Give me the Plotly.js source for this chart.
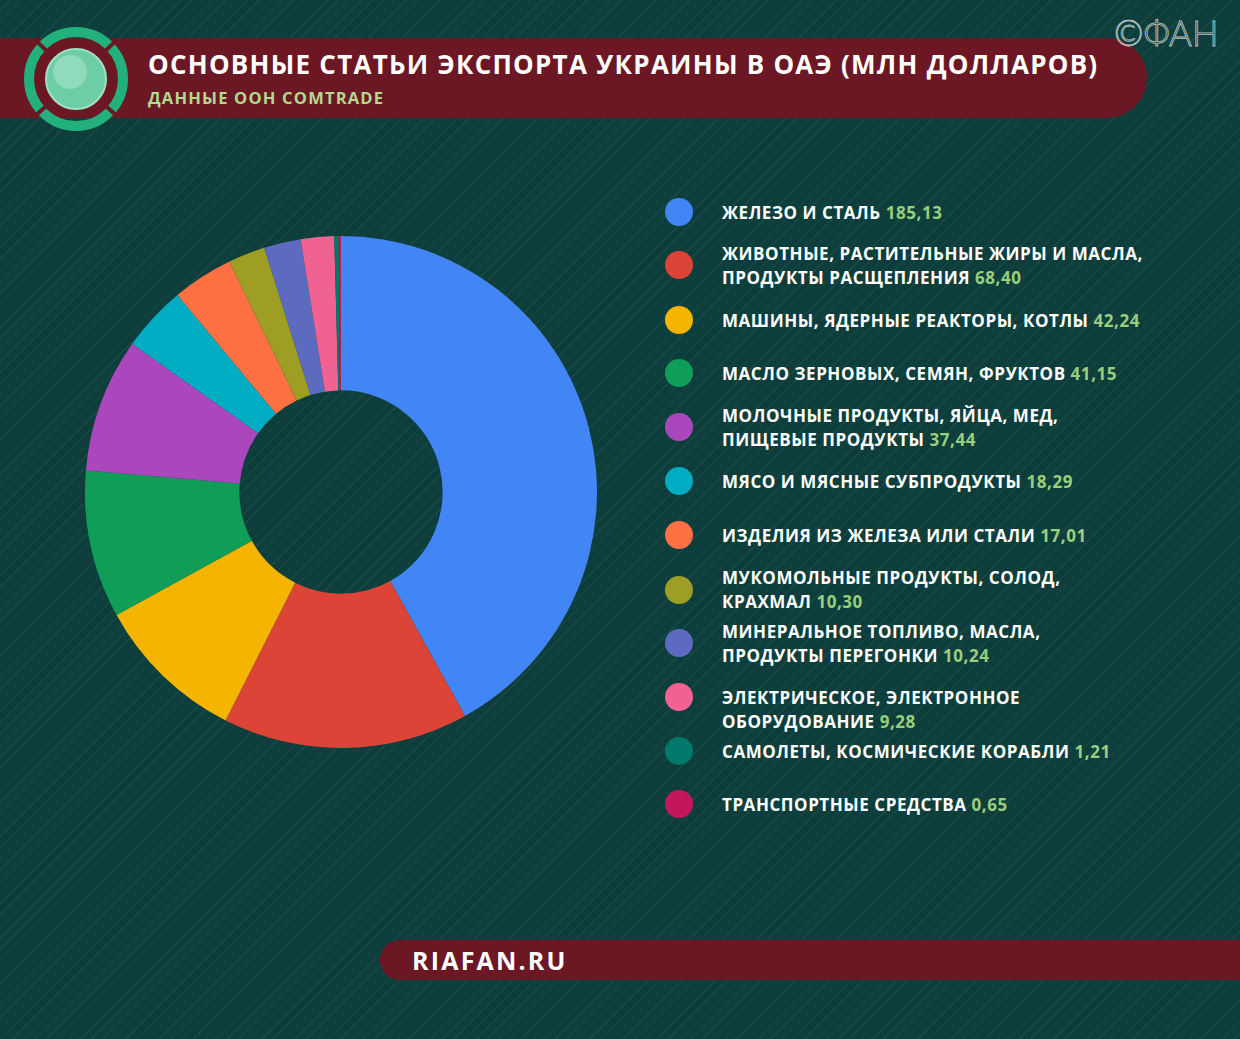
<!DOCTYPE html>
<html>
<head>
<meta charset="utf-8">
<script src="https://cdn.plot.ly/plotly-3.0.1.min.js"></script>
<style>
  html, body { margin: 0; padding: 0; }
  body {
    width: 1240px; height: 1039px; overflow: hidden;
    background-color: #0d3e3b;
    background-image: repeating-linear-gradient(135deg, rgba(255,255,255,0) 0px, rgba(255,255,255,0) 7px, rgba(120,170,160,0.10) 7px, rgba(120,170,160,0.10) 8px);
  }
  #chart { width: 1240px; height: 1039px; }
</style>
</head>
<body>
<div id="chart"></div>
<script>
// ---- data ----
const categories = [
  "ЖЕЛЕЗО И СТАЛЬ",
  "ЖИВОТНЫЕ, РАСТИТЕЛЬНЫЕ ЖИРЫ И МАСЛА,\nПРОДУКТЫ РАСЩЕПЛЕНИЯ",
  "МАШИНЫ, ЯДЕРНЫЕ РЕАКТОРЫ, КОТЛЫ",
  "МАСЛО ЗЕРНОВЫХ, СЕМЯН, ФРУКТОВ",
  "МОЛОЧНЫЕ ПРОДУКТЫ, ЯЙЦА, МЕД,\nПИЩЕВЫЕ ПРОДУКТЫ",
  "МЯСО И МЯСНЫЕ СУБПРОДУКТЫ",
  "ИЗДЕЛИЯ ИЗ ЖЕЛЕЗА ИЛИ СТАЛИ",
  "МУКОМОЛЬНЫЕ ПРОДУКТЫ, СОЛОД,\nКРАХМАЛ",
  "МИНЕРАЛЬНОЕ ТОПЛИВО, МАСЛА,\nПРОДУКТЫ ПЕРЕГОНКИ",
  "ЭЛЕКТРИЧЕСКОЕ, ЭЛЕКТРОННОЕ\nОБОРУДОВАНИЕ",
  "САМОЛЕТЫ, КОСМИЧЕСКИЕ КОРАБЛИ",
  "ТРАНСПОРТНЫЕ СРЕДСТВА"
];
const values = [185.13, 68.40, 42.24, 41.15, 37.44, 18.29, 17.01, 10.30, 10.24, 9.28, 1.21, 0.65];
const valueLabels = ["185,13", "68,40", "42,24", "41,15", "37,44", "18,29", "17,01", "10,30", "10,24", "9,28", "1,21", "0,65"];
const colors = ["#4285f4", "#db4437", "#f4b400", "#0f9d58", "#ab47bc", "#00acc1", "#ff7043", "#9e9d24", "#5c6bc0", "#f06292", "#00796b", "#c2185b"];
const titleText = "ОСНОВНЫЕ СТАТЬИ ЭКСПОРТА УКРАИНЫ В ОАЭ (МЛН ДОЛЛАРОВ)";
const subtitleText = "ДАННЫЕ ООН COMTRADE";
const footerText = "RIAFAN.RU";
const watermarkText = "©ФАН";

// ---- layout constants (pixels) ----
const W = 1240, H = 1039;
const legendMarkerX = 679;
const legendTextX = 720;
const legendFirstLineY = [212, 253, 320, 373, 415, 481, 535, 577, 631, 697, 751, 804];
const legendMarkerY = [212, 265, 320, 373, 427, 481, 535, 590, 643, 697, 751, 804];
const lineGap = 24;
const valueColor = "#98cf7d";
const bandColor = "#6c1824";
const FONT = "Open Sans, Noto Sans, sans-serif";

const pieCx = 341, pieCy = 492, pieR = 256;

const annotations = [];
const spacing = [];
function addText(x, y, text, xanchor, font, ls) {
  annotations.push({ xref: "x", yref: "y", x: x, y: y, text: text, showarrow: false,
    xanchor: xanchor, yanchor: "middle", align: "left", font: font });
  spacing.push(ls);
}
categories.forEach((c, i) => {
  const lines = c.split("\n");
  lines.forEach((ln, j) => {
    let t = ln;
    if (j === lines.length - 1) t += ' <span style="color:' + valueColor + '">' + valueLabels[i] + '</span>';
    addText(legendTextX, legendFirstLineY[i] + j * lineGap, t, "left",
      { family: FONT, size: 17, color: "#ffffff", weight: 700 }, "0.55px");
  });
});
addText(146, 64, titleText, "left", { family: FONT, size: 26, color: "#ffffff", weight: 700 }, "1.25px");
addText(146, 97, subtitleText, "left", { family: FONT, size: 16.5, color: "#b3d98f", weight: 700 }, "1.2px");
addText(410, 960, footerText, "left", { family: FONT, size: 25, color: "#ffffff", weight: 700 }, "2.2px");
addText(1220, 32, watermarkText, "right", { family: "Lato, sans-serif", size: 35, color: "rgba(225,232,230,0.08)", weight: 300 }, "0px");

function circ(cx, cy, r, fill, line, lw) {
  return { type: "circle", xref: "x", yref: "y", x0: cx - r, x1: cx + r, y0: cy - r, y1: cy + r,
    fillcolor: fill, line: { color: line || "rgba(0,0,0,0)", width: lw || 0 }, layer: "below" };
}
const shapes = [
  { type: "rect", xref: "x", yref: "y", x0: 0, x1: 1107, y0: 38, y1: 118, fillcolor: bandColor, line: { width: 0 }, layer: "below" },
  circ(1107, 78, 40, bandColor),
  { type: "rect", xref: "x", yref: "y", x0: 400, x1: W, y0: 940, y1: 980, fillcolor: bandColor, line: { width: 0 }, layer: "below" },
  circ(400, 960, 20, bandColor),
  circ(76, 79, 47, "rgba(0,0,0,0)", "#22b07d", 10),
  circ(76, 79, 30, "#6dcda5", "#9fe2c6", 2),
  circ(70, 72, 17, "rgba(210,245,228,0.35)"),
];
[[-0.72, -0.69], [0.72, -0.69], [0.74, 0.67], [-0.74, 0.67]].forEach(d => {
  shapes.push({ type: "line", xref: "x", yref: "y",
    x0: 76 + d[0] * 41, y0: 79 + d[1] * 41, x1: 76 + d[0] * 53, y1: 79 + d[1] * 53,
    line: { color: bandColor, width: 4 }, layer: "below" });
});

const pie = {
  type: "pie",
  values: values,
  labels: categories.map(c => c.replace("\n", " ")),
  marker: { colors: colors, line: { width: 0 } },
  sort: false,
  direction: "clockwise",
  rotation: 0,
  hole: 0.397,
  textinfo: "none",
  hoverinfo: "label+value",
  showlegend: false,
  domain: {
    x: [(pieCx - pieR) / W, (pieCx + pieR) / W],
    y: [(H - pieCy - pieR) / H, (H - pieCy + pieR) / H]
  }
};
const markers = {
  type: "scatter", mode: "markers",
  x: legendMarkerY.map(() => legendMarkerX),
  y: legendMarkerY,
  marker: { color: colors, size: 28, line: { width: 0 } },
  hoverinfo: "skip", showlegend: false, cliponaxis: false
};

const layout = {
  width: W, height: H,
  margin: { l: 0, r: 0, t: 0, b: 0 },
  paper_bgcolor: "rgba(0,0,0,0)",
  plot_bgcolor: "rgba(0,0,0,0)",
  showlegend: false,
  xaxis: { range: [0, W], visible: false, fixedrange: true, domain: [0, 1] },
  yaxis: { range: [H, 0], visible: false, fixedrange: true, domain: [0, 1] },
  shapes: shapes,
  annotations: annotations
};
Plotly.newPlot("chart", [pie, markers], layout, { displayModeBar: false, staticPlot: true }).then(gd => {
  const groups = gd.querySelectorAll("g.annotation");
  groups.forEach(g => {
    const k = +g.getAttribute("data-index");
    const txt = g.querySelector("text.annotation-text");
    if (!txt) return;
    txt.style.letterSpacing = spacing[k];
    if (annotations[k].text === watermarkText) {
      txt.style.stroke = "rgba(225,232,230,0.8)";
      txt.style.strokeWidth = "0.8px";
    }
  });
});
</script>
</body>
</html>
